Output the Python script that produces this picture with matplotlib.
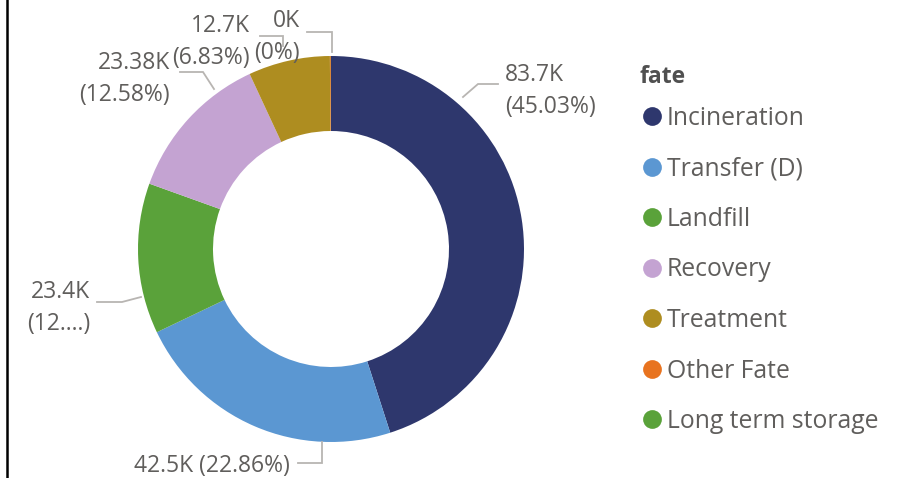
""" Donut chart of waste by fate """
import matplotlib.pyplot as plt
from matplotlib.lines import Line2D

fates = ['Incineration', 'Transfer (D)', 'Landfill', 'Recovery',
         'Treatment', 'Other Fate', 'Long term storage']
values = [83.7, 42.5, 23.4, 23.38, 12.7, 0.15, 0.02]   # thousands
label_lines = [['83.7K', '(45.03%)'],
               ['42.5K (22.86%)'],
               ['23.4K', '(12....)'],
               ['23.38K', '(12.58%)'],
               ['12.7K', '(6.83%)'],
               ['0K', '(0%)']]
colors = ['#2E376D', '#5B97D2', '#5AA23A', '#C4A3D2',
          '#AE8D20', '#E8731F', '#5AA23A']

W, H = 913, 478
txt = '#605E5C'
leader = '#B8B5B2'
dy = 2.5   # text baseline nudge (px)
plt.rcParams['font.family'] = ['Open Sans', 'DejaVu Sans']

fig = plt.figure(figsize=(W / 100, H / 100), dpi=100)
ax = fig.add_axes([0, 0, 1, 1])

def py(y):
    """ pixel row (from top) -> data y """
    return H - y

""" Donut """
ax.pie(values, colors=colors, startangle=90, counterclock=False,
       center=(331, py(249)), radius=193,
       wedgeprops=dict(width=75, linewidth=0))
ax.set_xlim(0, W)
ax.set_ylim(0, H)
ax.set_aspect('auto')
ax.axis('off')

""" Data labels: (x, align, first line y, leader polyline) """
layout = [
    (505, 'left', 72, [(463, 97), (478, 84), (498, 84)]),
    (290, 'right', 463, [(322, 442), (322, 463), (298, 463)]),
    (90, 'right', 289, [(141, 297), (122, 302), (97, 302)]),
    (170, 'right', 60, [(214, 89), (203, 72), (180, 72)]),
    (250, 'right', 23, [(283, 46), (283, 36), (260, 36)]),
    (300, 'right', 18, [(332, 52), (332, 32), (307, 32)]),
]
for lines, (x, ha, y0, pts) in zip(label_lines, layout):
    for k, s in enumerate(lines):
        ax.text(x, py(y0 + 32 * k + dy), s, ha=ha, va='center',
                fontsize=16.5, color=txt)
    ax.plot([p[0] for p in pts], [py(p[1]) for p in pts],
            color=leader, lw=1.3, solid_joinstyle='miter')

""" Legend """
ax.text(640, py(74 + dy), 'fate', ha='left', va='center', fontsize=16.5,
        fontweight='bold', color='#505050')
for i, (name, c) in enumerate(zip(fates, colors)):
    y = 116 + 50.5 * i
    ax.plot(652, py(y), 'o', ms=13.5, color=c, mec='none')
    ax.text(667, py(y + dy), name, ha='left', va='center', fontsize=17.8,
            color=txt)

""" Left border """
fig.add_artist(Line2D([6.5 / W, 6.5 / W], [0, 1], color='black', lw=1.8,
                      transform=fig.transFigure))

fig.savefig('out.png', dpi=100)
